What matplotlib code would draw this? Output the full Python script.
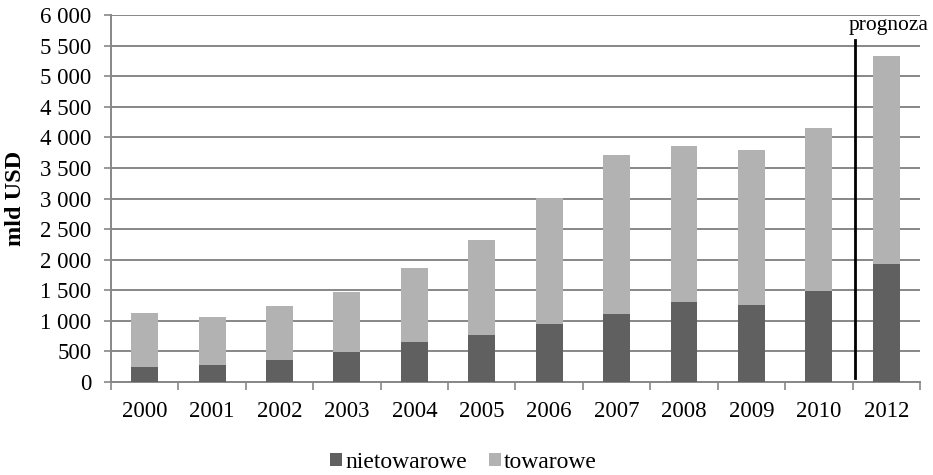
import matplotlib
matplotlib.use("Agg")
import matplotlib.pyplot as plt
from matplotlib.ticker import FixedLocator, FuncFormatter
import numpy as np

# Data (mld USD)
years = ["2000", "2001", "2002", "2003", "2004", "2005", "2006",
         "2007", "2008", "2009", "2010", "2012"]
nietowarowe = [250, 280, 365, 495, 645, 775, 940, 1110, 1310, 1265, 1490, 1935]
towarowe_total = [1130, 1055, 1250, 1470, 1870, 2315, 3005, 3720, 3860, 3790, 4150, 5340]
towarowe = [t - n for t, n in zip(towarowe_total, nietowarowe)]

dark = "#606060"
light = "#b2b2b2"
grid_c = "#878787"

plt.rcParams["font.family"] = ["Liberation Serif", "DejaVu Serif"]

fig = plt.figure(figsize=(9.33, 4.75), dpi=100)
ax = fig.add_axes([0.119, 0.196, 0.867, 0.772])

x = np.arange(len(years))
w = 0.4
ax.bar(x, nietowarowe, width=w, color=dark, label="nietowarowe", zorder=3)
ax.bar(x, towarowe, width=w, bottom=nietowarowe, color=light,
       label="towarowe", zorder=3)

ax.set_xlim(-0.5, len(years) - 0.5)
ax.set_ylim(0, 6000)
ax.set_yticks(np.arange(0, 6001, 500))
ax.yaxis.set_major_formatter(FuncFormatter(lambda v, p: f"{int(v):,}".replace(",", " ")))
ax.set_xticks(x)
ax.set_xticklabels(years)
ax.xaxis.set_minor_locator(FixedLocator(np.arange(-0.5, len(years), 1.0)))
ax.tick_params(axis="x", which="major", length=0, labelsize=16.5, pad=14)
ax.tick_params(axis="x", which="minor", length=6, color=grid_c, width=1.2)
ax.tick_params(axis="y", length=5, color=grid_c, width=1.2, labelsize=16.5, pad=9)

ax.grid(axis="y", color=grid_c, linewidth=1.4, zorder=0)
for s in ["top", "right"]:
    ax.spines[s].set_visible(False)
for s in ["left", "bottom"]:
    ax.spines[s].set_color(grid_c)
    ax.spines[s].set_linewidth(1.4)

ax.set_ylabel("mld USD", fontsize=17.5, fontweight="bold")
ax.yaxis.set_label_coords(-0.105, 0.5)

# forecast separator
ax.plot([10.54, 10.54], [65, 5590], color="black", linewidth=2, zorder=4,
        clip_on=False)
ax.text(11.03, 5750, "prognoza", ha="center", va="baseline", fontsize=15.5)

fig.legend(loc="center", bbox_to_anchor=(0.497, 0.026), ncol=2, frameon=False,
           fontsize=17, handlelength=0.5, handleheight=0.5, handletextpad=0.15,
           columnspacing=0.9)

fig.savefig("out.png", dpi=100)
